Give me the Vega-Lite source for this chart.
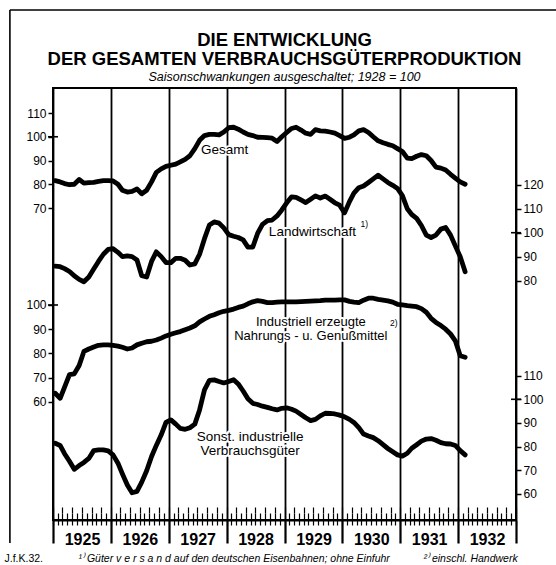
{
  "$schema": "https://vega.github.io/schema/vega-lite/v6.json",
  "width": 463,
  "height": 432,
  "autosize": "none",
  "padding": {"left": 53, "top": 88, "right": 40, "bottom": 45},
  "background": "white",
  "title": {
    "text": ["DIE ENTWICKLUNG", "DER GESAMTEN VERBRAUCHSGÜTERPRODUKTION"],
    "subtitle": "Saisonschwankungen ausgeschaltet; 1928 = 100",
    "font": "Liberation Sans", "fontSize": 18.5, "fontWeight": "bold", "lineHeight": 19,
    "subtitleFont": "Liberation Sans", "subtitleFontSize": 12.5, "subtitleFontStyle": "italic",
    "subtitlePadding": 2, "anchor": "middle", "offset": -74, "color": "black", "subtitleColor": "black"
  },
  "data": {"values": [
    {"d":"1925-01-15","g":81.5,"l":86,"i":63.5,"s":81.4},
    {"d":"1925-02-15","g":81,"l":85.8,"i":61.4,"s":80.5},
    {"d":"1925-03-15","g":80.3,"l":85,"i":66,"s":77},
    {"d":"1925-04-15","g":79.8,"l":83.8,"i":71.2,"s":73.8},
    {"d":"1925-05-15","g":80,"l":82,"i":71.5,"s":70.4},
    {"d":"1925-06-15","g":82,"l":80.5,"i":75,"s":72},
    {"d":"1925-07-15","g":80.5,"l":79.5,"i":80.8,"s":73.3},
    {"d":"1925-08-15","g":80.7,"l":81.5,"i":81.8,"s":75},
    {"d":"1925-09-15","g":80.8,"l":84.8,"i":82.6,"s":78.3},
    {"d":"1925-10-15","g":81.2,"l":88,"i":83.3,"s":78.6},
    {"d":"1925-11-15","g":81.5,"l":91,"i":83.5,"s":78.6},
    {"d":"1925-12-15","g":81.5,"l":93,"i":83.5,"s":78.2},
    {"d":"1926-01-15","g":81.4,"l":93.3,"i":83.3,"s":76.5},
    {"d":"1926-02-15","g":80,"l":91.8,"i":83,"s":73},
    {"d":"1926-03-15","g":77.5,"l":90,"i":82.5,"s":68.5},
    {"d":"1926-04-15","g":76.7,"l":90.3,"i":81.8,"s":63.8},
    {"d":"1926-05-15","g":77,"l":90,"i":82.2,"s":60.5},
    {"d":"1926-06-15","g":78,"l":88.6,"i":83.5,"s":61.1},
    {"d":"1926-07-15","g":76,"l":82,"i":84.2,"s":65},
    {"d":"1926-08-15","g":77.5,"l":81.5,"i":84.8,"s":69.8},
    {"d":"1926-09-15","g":81,"l":88,"i":85,"s":75.8},
    {"d":"1926-10-15","g":85,"l":92,"i":85.5,"s":80.5},
    {"d":"1926-11-15","g":86.5,"l":90,"i":86.3,"s":85},
    {"d":"1926-12-15","g":87.5,"l":87.5,"i":87.2,"s":90.2},
    {"d":"1927-01-15","g":88,"l":87.5,"i":87.9,"s":91.3},
    {"d":"1927-02-15","g":88.5,"l":89.3,"i":88.5,"s":89.5},
    {"d":"1927-03-15","g":89.4,"l":89.3,"i":89,"s":87.7},
    {"d":"1927-04-15","g":90.5,"l":88.5,"i":89.8,"s":87.3},
    {"d":"1927-05-15","g":92,"l":86.5,"i":90.5,"s":88},
    {"d":"1927-06-15","g":95,"l":87,"i":91.4,"s":89.5},
    {"d":"1927-07-15","g":98.5,"l":91,"i":93,"s":95.5},
    {"d":"1927-08-15","g":100.5,"l":97.5,"i":94.2,"s":104},
    {"d":"1927-09-15","g":101,"l":103.2,"i":95.3,"s":108},
    {"d":"1927-10-15","g":101,"l":104.5,"i":96,"s":108.2},
    {"d":"1927-11-15","g":100.8,"l":104,"i":96.8,"s":107.5},
    {"d":"1927-12-15","g":102,"l":102,"i":97.4,"s":106.9},
    {"d":"1928-01-15","g":103.8,"l":99.2,"i":97.8,"s":107.5},
    {"d":"1928-02-15","g":104,"l":98.5,"i":98.3,"s":108.3},
    {"d":"1928-03-15","g":103.2,"l":98,"i":99,"s":106.5},
    {"d":"1928-04-15","g":102,"l":97,"i":99.5,"s":103.5},
    {"d":"1928-05-15","g":101,"l":94,"i":100.5,"s":100.2},
    {"d":"1928-06-15","g":100.5,"l":94,"i":101.3,"s":98.3},
    {"d":"1928-07-15","g":99.8,"l":99.7,"i":101.8,"s":97.8},
    {"d":"1928-08-15","g":99.7,"l":103.5,"i":101.5,"s":97.1},
    {"d":"1928-09-15","g":99.6,"l":105,"i":101,"s":96.6},
    {"d":"1928-10-15","g":99.4,"l":105.3,"i":101,"s":96},
    {"d":"1928-11-15","g":98,"l":107,"i":101.2,"s":95.5},
    {"d":"1928-12-15","g":100,"l":109.5,"i":101.3,"s":96.2},
    {"d":"1929-01-15","g":101.8,"l":112.5,"i":101.3,"s":96.4},
    {"d":"1929-02-15","g":103.5,"l":115,"i":101.3,"s":95.8},
    {"d":"1929-03-15","g":104,"l":114.8,"i":101.3,"s":95},
    {"d":"1929-04-15","g":102.8,"l":113.7,"i":101.4,"s":93.6},
    {"d":"1929-05-15","g":101.5,"l":112.6,"i":101.5,"s":92.2},
    {"d":"1929-06-15","g":101,"l":114,"i":101.6,"s":91},
    {"d":"1929-07-15","g":103,"l":115.4,"i":101.7,"s":91.5},
    {"d":"1929-08-15","g":102.5,"l":114.5,"i":101.8,"s":93},
    {"d":"1929-09-15","g":102.4,"l":115.3,"i":102,"s":94.1},
    {"d":"1929-10-15","g":102,"l":114,"i":102,"s":94},
    {"d":"1929-11-15","g":101.5,"l":112.5,"i":102,"s":93.8},
    {"d":"1929-12-15","g":100.5,"l":111.5,"i":102.1,"s":93.3},
    {"d":"1930-01-15","g":99.3,"l":108.3,"i":102.1,"s":92.6},
    {"d":"1930-02-15","g":99.8,"l":113,"i":101.5,"s":91.5},
    {"d":"1930-03-15","g":100.8,"l":116.5,"i":101.2,"s":90.2},
    {"d":"1930-04-15","g":102.5,"l":118.8,"i":101,"s":88},
    {"d":"1930-05-15","g":103,"l":119.5,"i":102,"s":85.3},
    {"d":"1930-06-15","g":101.8,"l":121,"i":102.8,"s":84.5},
    {"d":"1930-07-15","g":100,"l":122.5,"i":102.8,"s":83.8},
    {"d":"1930-08-15","g":98.3,"l":124,"i":102.3,"s":82.5},
    {"d":"1930-09-15","g":97.5,"l":122.5,"i":102,"s":80.8},
    {"d":"1930-10-15","g":96.8,"l":121,"i":101.7,"s":79.2},
    {"d":"1930-11-15","g":96.2,"l":119.8,"i":101.2,"s":77.8},
    {"d":"1930-12-15","g":95,"l":118.5,"i":100.3,"s":76.5},
    {"d":"1931-01-15","g":93.8,"l":115.5,"i":100,"s":76},
    {"d":"1931-02-15","g":91,"l":110,"i":99.7,"s":77.2},
    {"d":"1931-03-15","g":90.8,"l":107.6,"i":99.5,"s":79.3},
    {"d":"1931-04-15","g":91.8,"l":106,"i":99.3,"s":80.8},
    {"d":"1931-05-15","g":92.5,"l":103,"i":98.5,"s":82.3},
    {"d":"1931-06-15","g":92,"l":99,"i":97,"s":83.2},
    {"d":"1931-07-15","g":90,"l":98,"i":94.5,"s":83.4},
    {"d":"1931-08-15","g":87.2,"l":99,"i":92.8,"s":82.7},
    {"d":"1931-09-15","g":86.8,"l":101.5,"i":91.5,"s":81.7},
    {"d":"1931-10-15","g":86,"l":102.2,"i":90,"s":81.2},
    {"d":"1931-11-15","g":84.2,"l":99,"i":88,"s":81.1},
    {"d":"1931-12-15","g":82.6,"l":94.5,"i":85.2,"s":80.5},
    {"d":"1932-01-15","g":81,"l":90,"i":79,"s":78.3},
    {"d":"1932-02-15","g":80,"l":83.7,"i":78.4,"s":76.5}
  ]},
  "layer": [
    {
      "layer": [
        {"mark": {"type": "line", "color": "black", "strokeWidth": 4.8, "strokeJoin": "round", "strokeCap": "round"},
         "encoding": {
           "x": {"field": "d", "type": "temporal",
                 "scale": {"type": "utc", "domain": [{"year": 1925, "month": 1, "date": 1, "utc": true}, {"year": 1933, "month": 1, "date": 1, "utc": true}]},
                 "axis": {"orient": "bottom",
                          "values": [{"year": 1925, "month": 1, "date": 1, "utc": true}, {"year": 1926, "month": 1, "date": 1, "utc": true}, {"year": 1927, "month": 1, "date": 1, "utc": true}, {"year": 1928, "month": 1, "date": 1, "utc": true}, {"year": 1929, "month": 1, "date": 1, "utc": true}, {"year": 1930, "month": 1, "date": 1, "utc": true}, {"year": 1931, "month": 1, "date": 1, "utc": true}, {"year": 1932, "month": 1, "date": 1, "utc": true}, {"year": 1933, "month": 1, "date": 1, "utc": true}],
                          "grid": true, "gridColor": "black", "gridWidth": 1.8, "gridOpacity": 1,
                          "domain": true, "domainColor": "black", "domainWidth": 2,
                          "ticks": true, "tickSize": 23, "tickWidth": 2.2, "tickColor": "black",
                          "labelExpr": "utcyear(datum.value) < 1933 ? utcFormat(datum.value, '%Y') : ''",
                          "labelOffset": 29, "labelPadding": -12, "labelAlign": "center", "labelBaseline": "top",
                          "labelFontSize": 16, "labelFontWeight": "bold", "labelColor": "black",
                          "labelFlush": false, "labelOverlap": false, "labelBound": false,
                          "title": "J.f.K.32.", "titleX": -49, "titleY": 41, "titleAlign": "left", "titleAnchor": "start",
                          "titleBaseline": "alphabetic", "titleFontSize": 10.5, "titleFontWeight": "normal", "titleColor": "black", "titleAngle": 0}},
           "y": {"field": "g", "type": "quantitative",
                 "scale": {"domain": [-61.37, 120.53], "nice": false, "zero": false},
                 "axis": {"orient": "left", "values": [70, 80, 90, 100, 110], "domain": false, "grid": false,
                          "tickSize": 5, "tickWidth": 1.5, "tickColor": "black", "labelFontSize": 12, "labelPadding": 2,
                          "labelColor": "black", "title": null}}}},
        {"data": {"values": [{}]}, "mark": {"type": "rule", "stroke": "black", "strokeWidth": 1.6},
         "encoding": {"x": {"datum": {"year": 1924, "month": 4, "date": 4, "utc": true}, "type": "temporal"},
                      "y": {"datum": 153.4, "type": "quantitative"}, "y2": {"datum": -71.05}}},
        {"data": {"values": [{}]}, "mark": {"type": "rule", "stroke": "black", "strokeWidth": 1.6},
         "encoding": {"x": {"datum": {"year": 1924, "month": 4, "date": 4, "utc": true}, "type": "temporal"},
                      "x2": {"datum": {"year": 1934, "month": 1, "date": 1, "utc": true}},
                      "y": {"datum": 153.4, "type": "quantitative"}}},
        {"data": {"values": [{}]}, "mark": {"type": "tick", "orient": "horizontal", "size": 10, "thickness": 1.6, "color": "black", "opacity": 1},
         "encoding": {"x": {"datum": {"year": 1925, "month": 1, "date": 1, "utc": true}, "type": "temporal"},
                      "y": {"datum": 100, "type": "quantitative"}}},
        {"data": {"values": [{}]}, "mark": {"type": "text", "text": "Gesamt", "fontSize": 13.5, "fill": "white", "stroke": "white", "strokeWidth": 3.5, "strokeJoin": "round"},
         "encoding": {"x": {"datum": {"year": 1927, "month": 12, "date": 20, "utc": true}, "type": "temporal"},
                      "y": {"datum": 94.4, "type": "quantitative"}}},
        {"data": {"values": [{}]}, "mark": {"type": "text", "text": "Gesamt", "fontSize": 13.5, "fill": "black"},
         "encoding": {"x": {"datum": {"year": 1927, "month": 12, "date": 20, "utc": true}, "type": "temporal"},
                      "y": {"datum": 94.4, "type": "quantitative"}}}
      ]
    },
    {
      "layer": [
        {"mark": {"type": "line", "color": "black", "strokeWidth": 4.8, "strokeJoin": "round", "strokeCap": "round"},
         "encoding": {
           "x": {"field": "d", "type": "temporal",
                 "scale": {"type": "utc", "domain": [{"year": 1925, "month": 1, "date": 1, "utc": true}, {"year": 1933, "month": 1, "date": 1, "utc": true}]},
                 "axis": {"orient": "bottom", "offset": -7, "tickCount": {"interval": "month", "step": 1},
                          "domain": false, "grid": false, "labels": false, "ticks": true,
                          "tickSize": 12, "tickWidth": 1.2, "tickColor": "black",
                          "title": "¹⁾ Güter v e r s a n d  auf den deutschen Eisenbahnen; ohne Einfuhr",
                          "titleX": 25, "titleY": 48, "titleAlign": "left", "titleAnchor": "start", "titleBaseline": "alphabetic",
                          "titleFontStyle": "italic", "titleFontWeight": "normal", "titleFontSize": 10.5, "titleColor": "black", "titleAngle": 0}},
           "y": {"field": "l", "type": "quantitative",
                 "scale": {"domain": [-20.06, 160.47], "nice": false, "zero": false},
                 "axis": {"orient": "right", "values": [80, 90, 100, 110, 120], "domain": false, "grid": false,
                          "tickSize": 5, "tickWidth": 1.5, "tickColor": "black", "labelFontSize": 12, "labelPadding": 2,
                          "labelColor": "black", "title": null}}}},
        {"data": {"values": [{}]}, "mark": {"type": "tick", "orient": "horizontal", "size": 10, "thickness": 1.6, "color": "black", "opacity": 1},
         "encoding": {"x": {"datum": {"year": 1933, "month": 1, "date": 1, "utc": true}, "type": "temporal"},
                      "y": {"datum": 100, "type": "quantitative"}}},
        {"data": {"values": [{}]}, "mark": {"type": "text", "text": "Landwirtschaft", "fontSize": 13.5, "fill": "white", "stroke": "white", "strokeWidth": 4, "strokeJoin": "round"},
         "encoding": {"x": {"datum": {"year": 1929, "month": 6, "date": 26, "utc": true}, "type": "temporal"},
                      "y": {"datum": 100.42, "type": "quantitative"}}},
        {"data": {"values": [{}]}, "mark": {"type": "text", "text": "Landwirtschaft", "fontSize": 13.5, "fill": "black"},
         "encoding": {"x": {"datum": {"year": 1929, "month": 6, "date": 26, "utc": true}, "type": "temporal"},
                      "y": {"datum": 100.42, "type": "quantitative"}}},
        {"data": {"values": [{}]}, "mark": {"type": "text", "text": "1)", "fontSize": 8.5, "fill": "black"},
         "encoding": {"x": {"datum": {"year": 1930, "month": 5, "date": 20, "utc": true}, "type": "temporal"},
                      "y": {"datum": 103.72, "type": "quantitative"}}}
      ]
    },
    {
      "layer": [
        {"mark": {"type": "line", "color": "black", "strokeWidth": 4.8, "strokeJoin": "round", "strokeCap": "round"},
         "encoding": {
           "x": {"field": "d", "type": "temporal",
                 "scale": {"type": "utc", "domain": [{"year": 1925, "month": 1, "date": 1, "utc": true}, {"year": 1933, "month": 1, "date": 1, "utc": true}]},
                 "axis": {"orient": "bottom", "offset": -13, "tickCount": {"interval": "month", "step": 2},
                          "domain": false, "grid": false, "labels": false, "ticks": true,
                          "tickSize": 6, "tickWidth": 1.2, "tickColor": "black",
                          "title": "²⁾ einschl. Handwerk",
                          "titleX": 370, "titleY": 54, "titleAlign": "left", "titleAnchor": "start", "titleBaseline": "alphabetic",
                          "titleFontStyle": "italic", "titleFontWeight": "normal", "titleFontSize": 10.5, "titleColor": "black", "titleAngle": 0}},
           "y": {"field": "i", "type": "quantitative",
                 "scale": {"domain": [11.06, 189.76], "nice": false, "zero": false},
                 "axis": {"orient": "left", "values": [60, 70, 80, 90, 100], "domain": false, "grid": false,
                          "tickSize": 5, "tickWidth": 1.5, "tickColor": "black", "labelFontSize": 12, "labelPadding": 2,
                          "labelColor": "black", "title": null}}}},
        {"data": {"values": [{}]}, "mark": {"type": "tick", "orient": "horizontal", "size": 10, "thickness": 1.6, "color": "black", "opacity": 1},
         "encoding": {"x": {"datum": {"year": 1925, "month": 1, "date": 1, "utc": true}, "type": "temporal"},
                      "y": {"datum": 100, "type": "quantitative"}}},
        {"data": {"values": [{}]}, "mark": {"type": "text", "text": ["Industriell erzeugte", "Nahrungs - u. Genußmittel"], "fontSize": 13, "lineHeight": 14, "fill": "white", "stroke": "white", "strokeWidth": 4, "strokeJoin": "round"},
         "encoding": {"x": {"datum": {"year": 1929, "month": 6, "date": 16, "utc": true}, "type": "temporal"},
                      "y": {"datum": 92.97, "type": "quantitative"}}},
        {"data": {"values": [{}]}, "mark": {"type": "text", "text": ["Industriell erzeugte", "Nahrungs - u. Genußmittel"], "fontSize": 13, "lineHeight": 14, "fill": "black"},
         "encoding": {"x": {"datum": {"year": 1929, "month": 6, "date": 16, "utc": true}, "type": "temporal"},
                      "y": {"datum": 92.97, "type": "quantitative"}}},
        {"data": {"values": [{}]}, "mark": {"type": "text", "text": "2)", "fontSize": 8.5, "fill": "black"},
         "encoding": {"x": {"datum": {"year": 1930, "month": 11, "date": 22, "utc": true}, "type": "temporal"},
                      "y": {"datum": 92.63, "type": "quantitative"}}}
      ]
    },
    {
      "layer": [
        {"mark": {"type": "line", "color": "black", "strokeWidth": 4.8, "strokeJoin": "round", "strokeCap": "round"},
         "encoding": {
           "x": {"field": "d", "type": "temporal",
                 "scale": {"type": "utc", "domain": [{"year": 1925, "month": 1, "date": 1, "utc": true}, {"year": 1933, "month": 1, "date": 1, "utc": true}]},
                 "axis": {"domain": false, "ticks": false, "labels": false, "grid": false, "title": null}},
           "y": {"field": "s", "type": "quantitative",
                 "scale": {"domain": [48.98, 231.57], "nice": false, "zero": false},
                 "axis": {"orient": "right", "values": [60, 70, 80, 90, 100, 110], "domain": false, "grid": false,
                          "tickSize": 5, "tickWidth": 1.5, "tickColor": "black", "labelFontSize": 12, "labelPadding": 2,
                          "labelColor": "black", "title": null}}}},
        {"data": {"values": [{}]}, "mark": {"type": "tick", "orient": "horizontal", "size": 10, "thickness": 1.6, "color": "black", "opacity": 1},
         "encoding": {"x": {"datum": {"year": 1933, "month": 1, "date": 1, "utc": true}, "type": "temporal"},
                      "y": {"datum": 100, "type": "quantitative"}}},
        {"data": {"values": [{}]}, "mark": {"type": "text", "text": ["Sonst. industrielle", "Verbrauchsgüter"], "fontSize": 13.5, "lineHeight": 14, "fill": "white", "stroke": "white", "strokeWidth": 4, "strokeJoin": "round"},
         "encoding": {"x": {"datum": {"year": 1928, "month": 5, "date": 29, "utc": true}, "type": "temporal"},
                      "y": {"datum": 84.06, "type": "quantitative"}}},
        {"data": {"values": [{}]}, "mark": {"type": "text", "text": ["Sonst. industrielle", "Verbrauchsgüter"], "fontSize": 13.5, "lineHeight": 14, "fill": "black"},
         "encoding": {"x": {"datum": {"year": 1928, "month": 5, "date": 29, "utc": true}, "type": "temporal"},
                      "y": {"datum": 84.06, "type": "quantitative"}}}
      ]
    }
  ],
  "resolve": {"scale": {"y": "independent"}, "axis": {"y": "independent", "x": "independent"}},
  "config": {
    "font": "Liberation Sans",
    "view": {"stroke": "black", "strokeWidth": 2},
    "axis": {"grid": false, "labelColor": "black", "tickColor": "black", "domainColor": "black", "titleColor": "black"},
    "text": {"font": "Liberation Sans", "baseline": "middle", "align": "center"}
  }
}
